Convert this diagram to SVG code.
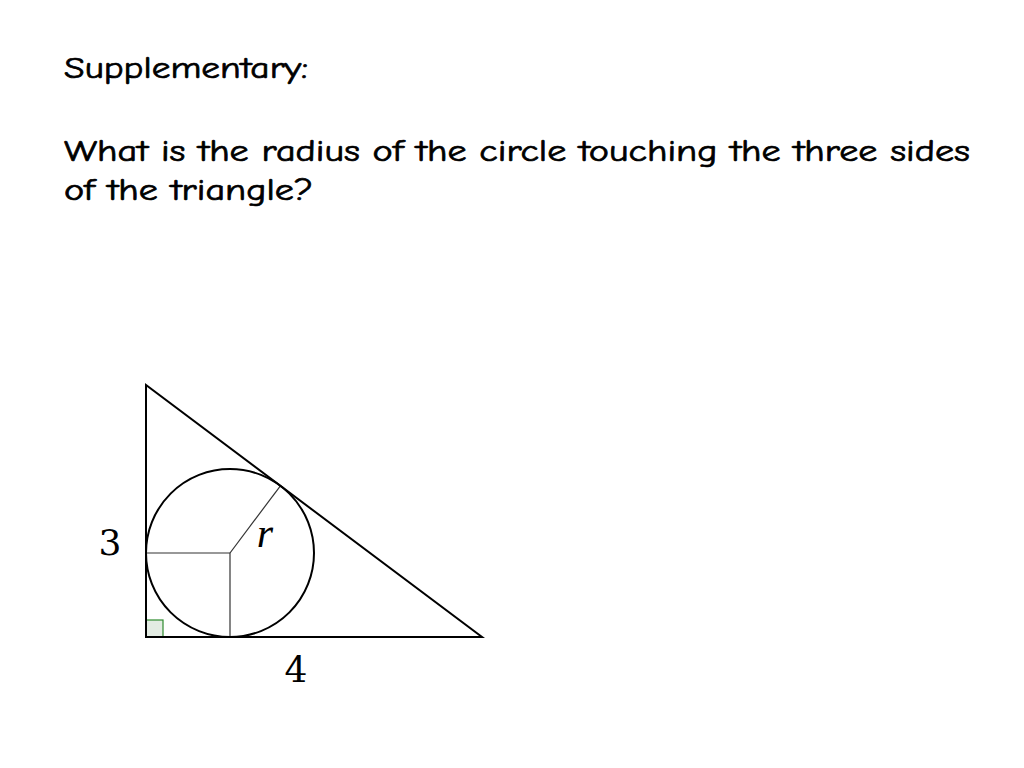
<svg xmlns="http://www.w3.org/2000/svg" width="1024" height="768" viewBox="0 0 1024 768">
<style>
.t{font-family:"Comic Neue","DejaVu Sans","Liberation Sans",sans-serif;font-size:30px;fill:#000;stroke:#000;stroke-width:0.7}
.m{font-family:"DejaVu Serif","Liberation Serif",serif;font-size:36px;fill:#000}
.thick{fill:none;stroke:#000;stroke-width:2}
.thin{fill:none;stroke:#333;stroke-width:1.2}
</style>
<rect width="1024" height="768" fill="#fff"/>
<g id="title">
<text class="t" x="64" y="78" textLength="244" lengthAdjust="spacingAndGlyphs">Supplementary:</text>
<text class="t" x="64" y="161" textLength="906" lengthAdjust="spacingAndGlyphs">What is the radius of the circle touching the three sides</text>
<text class="t" x="64" y="200" textLength="249" lengthAdjust="spacingAndGlyphs">of the triangle?</text>
</g>
<g id="right-angle">
<rect x="146" y="620" width="17" height="17" fill="#e3ece3" stroke="#2e8b2e" stroke-width="1.2"/>
</g>
<g id="radii">
<line class="thin" x1="146" y1="553" x2="230" y2="553"/>
<line class="thin" x1="230" y1="553" x2="230" y2="637"/>
<line class="thin" x1="230" y1="553" x2="280.4" y2="485.8"/>
</g>
<g id="circle">
<circle class="thick" cx="230" cy="553" r="84"/>
</g>
<g id="triangle">
<polygon class="thick" points="146,385 146,637 482,637" stroke-linejoin="miter"/>
</g>
<g id="labels">
<text class="m" x="110" y="555" text-anchor="middle">3</text>
<text class="m" x="296" y="682" text-anchor="middle">4</text>
<text x="265" y="547" text-anchor="middle" font-family="Liberation Serif, serif" font-style="italic" font-size="42" fill="#000">r</text>
</g>
</svg>
